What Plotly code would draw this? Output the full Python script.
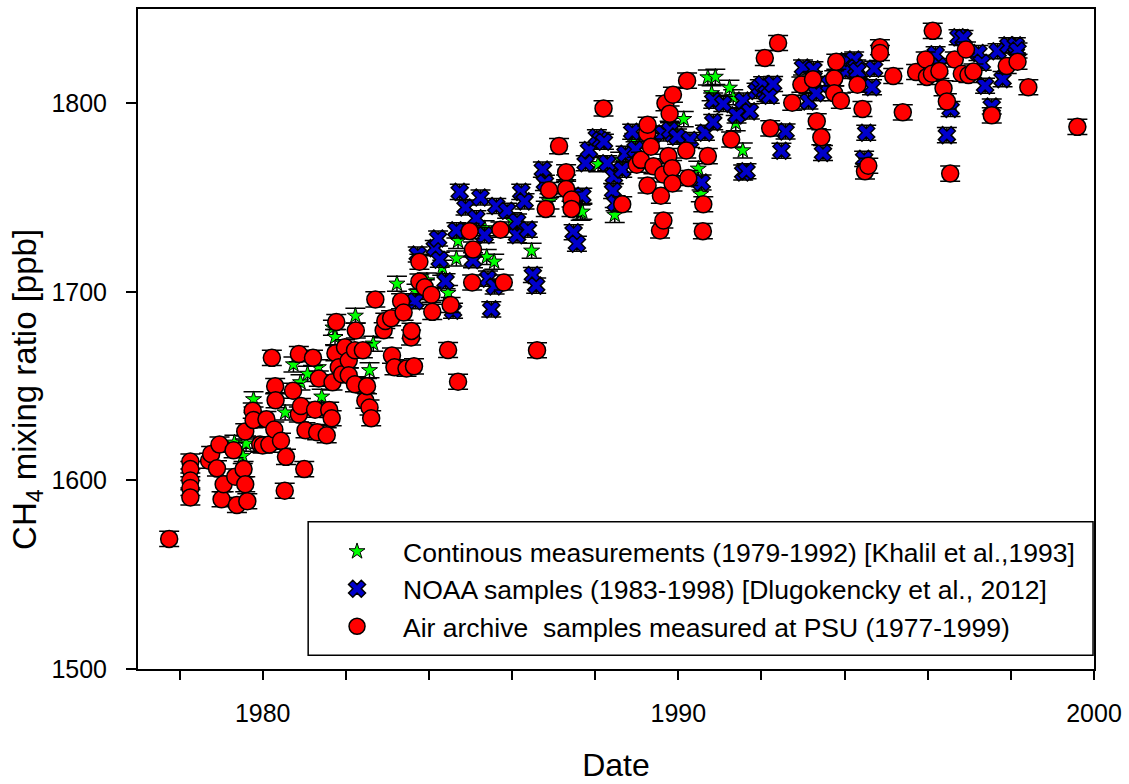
import plotly.graph_objects as go

# ---- Khalil et al. continuous measurements (decimal year, ppb)
khalil_year = [1979.32, 1979.52, 1979.60, 1979.78, 1980.54, 1980.74, 1980.91, 1981.08,
               1981.34, 1981.42, 1981.69, 1981.74, 1982.23, 1982.57, 1982.66, 1983.23,
               1983.70, 1983.95, 1984.32, 1984.46, 1984.66, 1984.70, 1985.34, 1985.39,
               1985.57, 1986.00, 1986.47, 1986.90, 1987.30, 1987.65, 1987.69, 1988.07,
               1988.47, 1988.60, 1988.94, 1989.40, 1989.90, 1990.13, 1990.48, 1990.54,
               1990.71, 1990.80, 1990.89, 1991.23, 1991.32, 1991.38, 1991.55]
khalil_ch4 = [1620, 1613, 1619.5, 1643, 1636, 1661.5, 1652, 1656.5,
              1660, 1644.4, 1681, 1676, 1687.3, 1658.4, 1672.5, 1704.3,
              1700, 1706, 1712.8, 1699.4, 1717.7, 1727, 1733.7, 1718.5,
              1716, 1738, 1721.8, 1748, 1758, 1742, 1742.5, 1767.7,
              1740.8, 1770, 1780, 1780, 1788, 1791.6, 1765.3, 1751.8,
              1813.7, 1805.3, 1814, 1808.2, 1803.2, 1789.5, 1775]
khalil_err = 4.0

# ---- NOAA flask samples (decimal year, ppb)
noaa_year = [1983.67, 1983.73, 1984.14, 1984.22, 1984.26, 1984.40, 1984.58, 1984.66,
             1984.74, 1984.88, 1985.06, 1985.14, 1985.24, 1985.34, 1985.42, 1985.50,
             1985.58, 1985.62, 1985.88, 1986.12, 1986.12, 1986.22, 1986.30, 1986.38,
             1986.50, 1986.58, 1986.74, 1986.79, 1987.48, 1987.56, 1987.48, 1987.69,
             1987.77, 1987.85, 1988.04, 1988.13, 1988.21, 1988.29, 1988.45, 1988.43,
             1988.49, 1988.65, 1988.73, 1988.89, 1988.97, 1989.64, 1989.80, 1989.97,
             1990.28, 1990.56, 1990.64, 1990.84, 1990.84, 1991.08, 1991.40, 1991.56,
             1991.56, 1991.64, 1991.72, 1991.88, 1991.96, 1992.04, 1992.12, 1992.20,
             1992.28, 1992.48, 1992.58, 1993.00, 1993.13, 1993.25, 1993.32, 1993.48,
             1993.63, 1994.03, 1994.03, 1994.23, 1994.28, 1994.31, 1994.71, 1994.66,
             1994.52, 1994.47, 1996.19, 1996.26, 1996.46, 1996.55, 1996.74, 1996.86,
             1997.22, 1997.30, 1997.38, 1997.54, 1997.68, 1997.80, 1997.94, 1998.12,
             1998.16]
noaa_ch4 = [1695, 1719.8, 1723.2, 1728.3, 1717, 1705.6, 1690, 1732.6,
            1753, 1744.7, 1716.8, 1739, 1750, 1730, 1707, 1690.7,
            1702.8, 1745.5, 1743, 1730, 1737.3, 1753, 1748, 1733,
            1708.9, 1703.3, 1764.8, 1757.8, 1731.6, 1725.5, 1750, 1751,
            1768.2, 1775.2, 1782, 1780.5, 1779.6, 1768.2, 1761.3, 1753.5,
            1747, 1764.8, 1773.2, 1784.9, 1775.6, 1784, 1785.7, 1782.3,
            1780.5, 1758, 1784.4, 1790, 1801.4, 1799.7, 1793.6, 1801.4,
            1763.3, 1764, 1795.7, 1806.6, 1808.5, 1810.1, 1805, 1804,
            1810.2, 1774.8, 1785, 1819, 1801, 1818, 1805.3, 1773.6,
            1810.2, 1822.3, 1817.1, 1823.2, 1818.9, 1817.1, 1818.3, 1808.5,
            1784.4, 1770.5, 1826, 1819.8, 1783.1, 1797, 1835, 1834.6,
            1826.7, 1821.5, 1809.3, 1798.3, 1827.6, 1812.8, 1830.7, 1830.7,
            1828]
noaa_err = 4.0

# ---- Air archive samples measured at PSU (decimal year, ppb)
psu_year = [1977.75, 1978.26, 1978.26, 1978.26, 1978.26, 1978.26, 1978.71, 1978.76,
            1978.90, 1978.96, 1979.01, 1979.06, 1979.30, 1979.34, 1979.38, 1979.54,
            1979.58, 1979.58, 1979.63, 1979.76, 1979.78, 1979.94, 1980.00, 1980.09,
            1980.16, 1980.22, 1980.28, 1980.30, 1980.31, 1980.44, 1980.53, 1980.56,
            1980.73, 1980.87, 1980.87, 1980.92, 1981.00, 1981.03, 1981.21, 1981.26,
            1981.31, 1981.35, 1981.54, 1981.60, 1981.66, 1981.68, 1981.75, 1981.77,
            1981.83, 1981.91, 1981.98, 1982.07, 1982.07, 1982.22, 1982.22, 1982.24,
            1982.41, 1982.47, 1982.51, 1982.57, 1982.61, 1982.71, 1982.91, 1982.95,
            1983.09, 1983.11, 1983.17, 1983.33, 1983.39, 1983.46, 1983.57, 1983.58,
            1983.64, 1983.77, 1983.77, 1983.90, 1984.06, 1984.08, 1984.46, 1984.52,
            1984.70, 1984.98, 1985.04, 1985.06, 1985.72, 1985.80, 1986.60, 1986.81,
            1986.89, 1987.13, 1987.30, 1987.30, 1987.43, 1987.43, 1988.20, 1988.65,
            1989.00, 1989.10, 1989.25, 1989.26, 1989.26, 1989.34, 1989.40, 1989.56,
            1989.58, 1989.64, 1989.64, 1989.69, 1989.76, 1989.79, 1989.85, 1989.86,
            1989.87, 1990.19, 1990.21, 1990.24, 1990.59, 1990.60, 1990.71, 1991.27,
            1992.08, 1992.21, 1992.40, 1992.74, 1992.96, 1993.24, 1993.33, 1993.44,
            1993.75, 1993.75, 1993.80, 1993.91, 1994.31, 1994.43, 1994.49, 1994.57,
            1994.85, 1994.85, 1995.17, 1995.40, 1995.72, 1995.95, 1995.98, 1996.10,
            1996.12, 1996.28, 1996.38, 1996.46, 1996.54, 1996.65, 1996.82, 1996.92,
            1996.98, 1997.10, 1997.54, 1997.90, 1998.16, 1998.42, 1999.60]
psu_ch4 = [1569, 1610, 1606, 1600, 1596, 1591, 1610.4, 1614,
           1606.4, 1619, 1590, 1598, 1616, 1602, 1587, 1606,
           1598, 1626, 1589, 1637, 1632, 1619, 1618.5, 1632.5,
           1619, 1665, 1627, 1650, 1642.5, 1621, 1594.5, 1612.5,
           1647.6, 1667, 1635, 1639.5, 1606, 1626.6, 1665, 1637.5,
           1625.6, 1654, 1624, 1637.4, 1633, 1652, 1667.5, 1684,
           1660, 1656.3, 1670.6, 1663.6, 1655.8, 1669, 1651, 1679.5,
           1669, 1642.3, 1650, 1638.7, 1633, 1696, 1679.6, 1684.6,
           1686, 1666.2, 1660, 1695, 1689, 1659.3, 1675.8, 1679.3,
           1660.5, 1716, 1705.5, 1702.4, 1698.5, 1689.4, 1669.2, 1693,
           1652.3, 1732.2, 1705, 1722.5, 1733, 1705, 1669, 1744,
           1754, 1777.3, 1763.4, 1754.6, 1749, 1744, 1797.3, 1746.5,
           1767.4, 1770, 1784, 1788.6, 1756.4, 1777, 1766.6, 1732.5,
           1751, 1737.8, 1762.2, 1800, 1772, 1794.5, 1765.6, 1757.5,
           1804.5, 1775, 1812, 1760.4, 1732.2, 1746.5, 1772, 1780.8,
           1824, 1786.7, 1832, 1800.3, 1809.9, 1812.8, 1790.5, 1782,
           1813.2, 1805.3, 1822, 1801.4, 1809.8, 1797, 1763.9, 1766.9,
           1829.7, 1826.7, 1814.5, 1795.2, 1816.6, 1823.2, 1814, 1815.7,
           1838.4, 1817.1, 1808, 1801, 1762.7, 1823.2, 1815.7, 1828.5,
           1815, 1816.8, 1793.6, 1819.8, 1822, 1808.5, 1787.5]
psu_err = 4.0

series_names = [
    "Continous measurements (1979-1992) [Khalil et al.,1993]",
    "NOAA samples (1983-1998) [Dlugokencky et al., 2012]",
    "Air archive  samples measured at PSU (1977-1999)",
]

x_major = [1980, 1990, 2000]
x_minor = [1978, 1982, 1984, 1986, 1988, 1992, 1994, 1996, 1998]
y_ticks = [1500, 1600, 1700, 1800]

FONT = "Liberation Sans, Arial, sans-serif"


def err(v):
    return dict(type="constant", value=v, color="black", thickness=1.5, width=10)


fig = go.Figure()

fig.add_trace(go.Scatter(
    x=khalil_year, y=khalil_ch4, mode="markers", name=series_names[0],
    marker=dict(symbol="star", size=12, color="#00ff00",
                line=dict(color="black", width=1)),
    error_y=err(khalil_err),
))
fig.add_trace(go.Scatter(
    x=noaa_year, y=noaa_ch4, mode="markers", name=series_names[1],
    marker=dict(symbol="x", size=15, color="#0000cc",
                line=dict(color="black", width=1.5)),
    error_y=err(noaa_err),
))
fig.add_trace(go.Scatter(
    x=psu_year, y=psu_ch4, mode="markers", name=series_names[2],
    marker=dict(symbol="circle", size=17, color="#ff0000",
                line=dict(color="black", width=1.5)),
    error_y=err(psu_err),
))

# legend frame
fig.add_shape(type="rect", xref="paper", yref="paper",
              x0=0.178, x1=0.999, y0=0.021, y1=0.223,
              line=dict(color="black", width=1.5), fillcolor="white",
              layer="above")

# y-axis title, set slightly below the centre of the axis
fig.add_annotation(
    text="CH<sub>4</sub> mixing ratio [ppb]", textangle=-90,
    xref="paper", yref="paper", x=-0.116, y=0.423,
    xanchor="center", yanchor="middle", showarrow=False,
    font=dict(family=FONT, size=33, color="black"),
)

fig.update_layout(
    width=1129, height=784,
    margin=dict(l=138, r=31, t=7, b=108),
    paper_bgcolor="white", plot_bgcolor="white",
    font=dict(family=FONT, size=25, color="black"),
    showlegend=True,
    legend=dict(x=0.181, y=0.121, xanchor="left", yanchor="middle",
                bgcolor="rgba(0,0,0,0)", borderwidth=0,
                font=dict(family=FONT, size=26.5, color="black"),
                itemwidth=82, tracegroupgap=0),
    xaxis=dict(
        range=[1977, 2000], tickvals=x_major, ticktext=[str(v) for v in x_major],
        ticks="outside", ticklen=9, tickwidth=1.5, tickcolor="black",
        minor=dict(tickvals=x_minor, ticks="outside", ticklen=9,
                   tickwidth=1.5, tickcolor="black", showgrid=False),
        showline=True, linewidth=2, linecolor="black", mirror=True,
        showgrid=False, zeroline=False,
        ticklabelstandoff=12,
        tickfont=dict(size=25),
        title=dict(text="Date", font=dict(size=32), standoff=28),
    ),
    yaxis=dict(
        range=[1500, 1850], tickvals=y_ticks,
        ticks="outside", ticklen=10, tickwidth=1.5, tickcolor="black",
        showline=True, linewidth=2, linecolor="black", mirror=True,
        showgrid=False, zeroline=False,
        ticklabelstandoff=14,
        tickfont=dict(size=25),
    ),
)

fig.write_html("out.html")
